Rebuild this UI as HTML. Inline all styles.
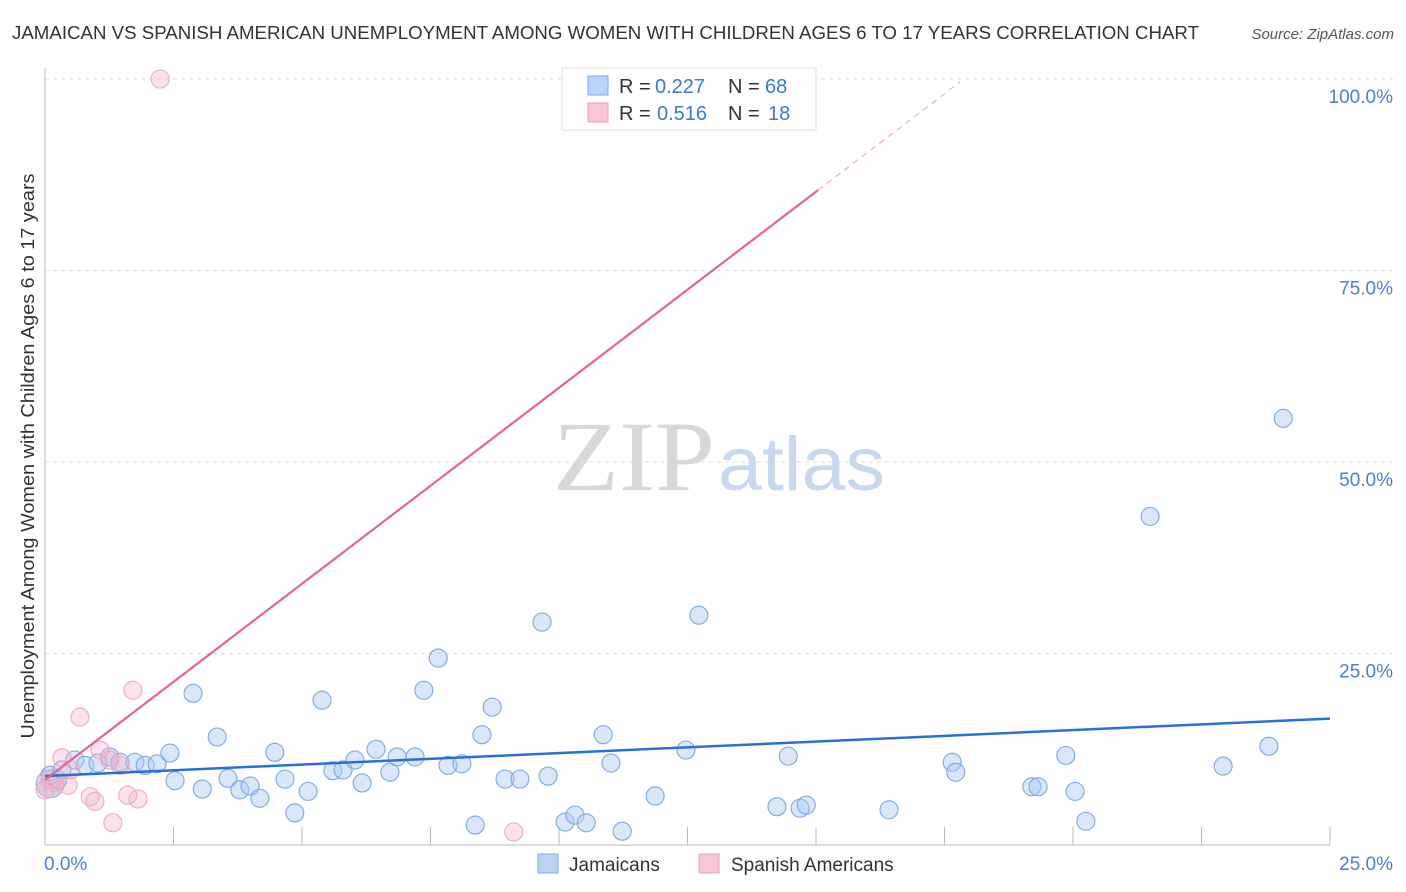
<!DOCTYPE html>
<html><head><meta charset="utf-8"><style>
body{margin:0;background:#fff;font-family:"Liberation Sans",sans-serif;}
</style></head><body>
<svg id="chart" width="1406" height="892" xmlns="http://www.w3.org/2000/svg" style="display:block">
<text x="12" y="39" font-size="18" fill="#333" textLength="1187" lengthAdjust="spacingAndGlyphs">JAMAICAN VS SPANISH AMERICAN UNEMPLOYMENT AMONG WOMEN WITH CHILDREN AGES 6 TO 17 YEARS CORRELATION CHART</text>
<text x="1394" y="39" font-size="15" fill="#555" font-style="italic" text-anchor="end">Source: ZipAtlas.com</text>
<g>
<text x="553" y="490" font-size="100" font-family="Liberation Serif,serif" fill="#d8d8d8" textLength="162" lengthAdjust="spacingAndGlyphs">ZIP</text>
<text x="718" y="490" font-size="76" fill="#c8d8ef" textLength="167" lengthAdjust="spacingAndGlyphs">atlas</text>
</g>
<g id="grid"></g>
<g id="axes"></g>
<g id="marks"></g>
<text transform="translate(34,456) rotate(-90)" font-size="18" fill="#333" text-anchor="middle" textLength="565" lengthAdjust="spacingAndGlyphs">Unemployment Among Women with Children Ages 6 to 17 years</text>
<g>
<rect x="562" y="68" width="254" height="62" fill="#fff" stroke="#ddd"/>
<rect x="588" y="76" width="20" height="19" fill="#b8d3f5" stroke="#7ea9e6"/>
<rect x="588" y="103" width="20" height="19" fill="#f9c6d6" stroke="#eea3bb"/>
<text x="619" y="93" font-size="20" fill="#333">R =</text>
<text x="655" y="93" font-size="20" fill="#3a78d4">0.227</text>
<text x="728" y="93" font-size="20" fill="#333">N =</text>
<text x="765" y="93" font-size="20" fill="#3a78d4">68</text>
<text x="619" y="120" font-size="20" fill="#333">R =</text>
<text x="657" y="120" font-size="20" fill="#3a78d4">0.516</text>
<text x="728" y="120" font-size="20" fill="#333">N =</text>
<text x="768" y="120" font-size="20" fill="#3a78d4">18</text>
</g>
<g>
<rect x="538" y="854" width="20" height="19" fill="#b8d3f5" stroke="#7ea9e6"/>
<text x="569" y="871" font-size="19" fill="#333">Jamaicans</text>
<rect x="699" y="854" width="20" height="19" fill="#f9c6d6" stroke="#eea3bb"/>
<text x="731" y="871" font-size="19" fill="#333">Spanish Americans</text>
</g>
</svg>
<script>
const yTicks=[25,50,75,100];
const yTickLabels=["25.0%","50.0%","75.0%","100.0%"];
const xTicks=[2.5,5,7.5,10,12.5,15,17.5,20,22.5,25];
const blueX=[0.10,0.25,0.33,0.58,0.78,1.03,1.26,1.46,1.75,1.95,2.18,2.43,2.53,2.88,3.06,3.35,3.56,3.79,3.99,4.18,4.47,4.67,4.86,5.12,5.39,5.60,5.80,6.03,6.17,6.44,6.71,6.85,7.20,7.37,7.65,7.84,8.11,8.37,8.50,8.70,8.95,9.24,9.67,9.79,10.12,10.31,10.53,10.86,11.01,11.23,11.87,12.47,12.72,14.24,14.46,14.69,14.81,16.42,17.65,17.72,19.20,19.32,19.86,20.04,20.25,21.50,22.92,23.81,24.09];
const blueY=[9.1,8.5,9.8,11.1,10.4,10.7,11.5,10.8,10.8,10.4,10.6,12.0,8.4,19.8,7.3,14.1,8.7,7.2,7.7,6.1,12.1,8.6,4.2,7.0,18.9,9.7,9.8,11.1,8.1,12.5,9.5,11.5,11.5,20.2,24.4,10.4,10.6,2.6,14.4,18.0,8.6,8.6,29.1,9.0,3.0,3.9,2.9,14.4,10.7,1.8,6.4,12.4,30.0,5.0,11.6,4.8,5.2,4.6,10.8,9.5,7.6,7.6,11.7,7.0,3.1,42.9,10.3,12.9,55.7];
const pinkX=[2.24,0.19,0.33,0.45,0.68,0.88,0.97,1.07,1.26,1.32,1.46,1.61,1.71,1.81,9.12,0.10,0.0,0.5];
const pinkY=[100,8.1,11.4,7.8,16.7,6.3,5.7,12.4,11.1,2.9,10.4,6.5,20.2,6.0,1.7,8.5,7.2,9.8];
const blueTrend=[[0,9.0],[25,16.5]];
const pinkTrend=[[0,8.5],[15.04,85.5]];
const pinkTrendDash=[[15.04,85.5],[17.8,99.6]];
const NS="http://www.w3.org/2000/svg";
const X0=45,X1=1330,Y0=845,Y1=79;
const sx=v=>X0+(X1-X0)*v/25;
const sy=v=>Y0-(Y0-Y1)*v/100;
function mk(tag,attrs,parent){const e=document.createElementNS(NS,tag);for(const k in attrs)e.setAttribute(k,attrs[k]);document.getElementById(parent).appendChild(e);return e;}
yTicks.forEach((t,i)=>{
 const l=mk('line',{x1:X0,x2:1394,y1:sy(t),y2:sy(t),stroke:'#ddd','stroke-dasharray':'4,4'},'grid');
 
 
 const tx=mk('text',{x:1393,y:sy(t)+24,'font-size':19,fill:'#4a7fd4','text-anchor':'end'},'grid');
 tx.textContent=yTickLabels[i];
 
 
});
let a=mk('line',{x1:X0,x2:X0,y1:68,y2:Y0,stroke:'#bbb'},'axes');


a=mk('line',{x1:X0,x2:X1,y1:Y0,y2:Y0,stroke:'#bbb'},'axes');


xTicks.forEach(t=>{
 const l=mk('line',{x1:sx(t),x2:sx(t),y1:827,y2:Y0,stroke:'#bbb'},'axes');
 
 
});
let t0=mk('text',{x:44,y:870,'font-size':19,fill:'#4a7fd4'},'axes');t0.textContent='0.0%';


let t1=mk('text',{x:1393,y:870,'font-size':19,fill:'#4a7fd4','text-anchor':'end'},'axes');t1.textContent='25.0%';


let b=mk('circle',{cx:sx(0.1),cy:sy(8.0),r:14,fill:'rgba(150,150,200,0.4)',stroke:'#9aa9dd'},'marks');


blueX.forEach((x,i)=>{
 const c=mk('circle',{cx:sx(x),cy:sy(blueY[i]),r:9,fill:'rgba(170,202,242,0.45)',stroke:'#7aa8e4','stroke-width':1.1},'marks');
 
 
});
pinkX.forEach((x,i)=>{
 const c=mk('circle',{cx:sx(x),cy:sy(pinkY[i]),r:9,fill:'rgba(245,175,198,0.35)',stroke:'#eeaac0','stroke-width':1.1},'marks');
 
 
});
let p=mk('line',{x1:sx(blueTrend[0][0]),y1:sy(blueTrend[0][1]),x2:sx(blueTrend[1][0]),y2:sy(blueTrend[1][1]),stroke:'#2a6fd6','stroke-width':2.5},'marks');


p=mk('line',{x1:sx(pinkTrend[0][0]),y1:sy(pinkTrend[0][1]),x2:sx(pinkTrend[1][0]),y2:sy(pinkTrend[1][1]),stroke:'#e8628f','stroke-width':2.2},'marks');


p=mk('line',{x1:sx(pinkTrendDash[0][0]),y1:sy(pinkTrendDash[0][1]),x2:sx(pinkTrendDash[1][0]),y2:sy(pinkTrendDash[1][1]),stroke:'#eaa0b8','stroke-width':1,'stroke-dasharray':'6,5'},'marks');


</script>
</body></html>
